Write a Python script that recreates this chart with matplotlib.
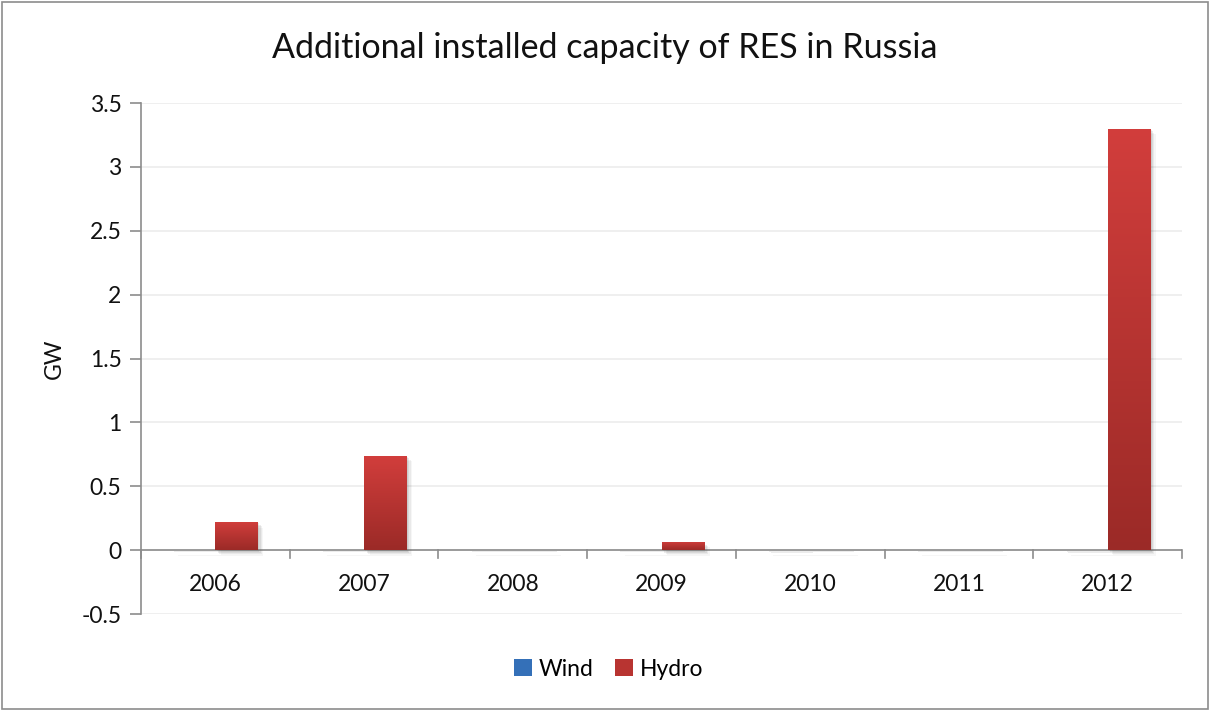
import numpy as np
import matplotlib
matplotlib.use("Agg")
import matplotlib.pyplot as plt
import matplotlib.patheffects as pe
from matplotlib.colors import LinearSegmentedColormap
from matplotlib.patches import Rectangle, Patch

years = ["2006", "2007", "2008", "2009", "2010", "2011", "2012"]
wind = [0.003, 0.002, 0.002, 0.002, 0.004, 0.002, 0.004]
hydro = [0.22, 0.74, 0.003, 0.065, 0.002, 0.002, 3.30]

plt.rcParams["font.family"] = ["Lato", "DejaVu Sans"]

fig = plt.figure(figsize=(12.1, 7.11), dpi=100)
ax = fig.add_axes([0.1165, 0.1364, 0.8604, 0.7186])

# outer chart frame
fig.patches.append(Rectangle((0.002, 0.003), 0.996, 0.994, transform=fig.transFigure,
                             fill=False, edgecolor="#8c8c8c", linewidth=1.2))

x = np.arange(len(years))
w = 0.2857
hydro_cmap = LinearSegmentedColormap.from_list("hydro", ["#9b2a27", "#d23e3c"])
wind_cmap = LinearSegmentedColormap.from_list("wind", ["#2a5a97", "#3c7cc8"])
grad = np.linspace(0, 1, 256).reshape(-1, 1)

# soft drop shadow built from a few faint offset copies
shadow = [pe.SimplePatchShadow(offset=(d, -d), shadow_rgbFace="#666666", alpha=a)
          for d, a in [(4, 0.06), (3, 0.09), (2, 0.12), (1, 0.12)]]


def draw_bars(xs, vals, cmap, base):
    bars = ax.bar(xs, vals, width=w, color=base, zorder=3,
                  path_effects=shadow + [pe.Normal()])
    for b in bars:
        x0, y0 = b.get_x(), b.get_y()
        im = ax.imshow(grad, cmap=cmap, origin="lower", aspect="auto",
                       extent=[x0, x0 + b.get_width(), y0, y0 + b.get_height()], zorder=4)
        im.set_clip_path(b)


draw_bars(x - w / 2, wind, wind_cmap, "#3470b8")
draw_bars(x + w / 2, hydro, hydro_cmap, "#b83431")

ax.set_xlim(-0.5, len(years) - 0.5)
ax.set_ylim(-0.5, 3.5)
ax.set_yticks(np.arange(-0.5, 3.51, 0.5))
ax.set_yticklabels(["-0.5", "0", "0.5", "1", "1.5", "2", "2.5", "3", "3.5"])
ax.yaxis.grid(True, color="#ececec", linewidth=1.2, zorder=0)
ax.set_axisbelow(True)

for s in ["top", "right", "bottom"]:
    ax.spines[s].set_visible(False)
ax.spines["left"].set_color("#8c8c8c")
ax.spines["left"].set_linewidth(1.2)
ax.axhline(0, color="#8c8c8c", linewidth=1.2, zorder=2)

# category ticks on the zero line
ax.set_xticks([])
for b in np.arange(-0.5, len(years), 1.0):
    ax.plot([b, b], [0, -0.06], color="#8c8c8c", linewidth=1.2, clip_on=False, zorder=2)
for xi, yr in zip(x, years):
    ax.text(xi, -0.27, yr, ha="center", va="center", fontsize=16.5, color="#111111")

ax.tick_params(axis="y", length=8, width=1.2, color="#8c8c8c", labelsize=16.5,
               labelcolor="#111111", pad=6)
ax.set_ylabel("GW", fontsize=16.5, color="#111111", labelpad=12)

fig.text(0.5, 0.932, "Additional installed capacity of RES in Russia",
         ha="center", va="center", fontsize=24.5, color="#111111")

handles = [Patch(facecolor="#3470b8", edgecolor="none"),
           Patch(facecolor="#b83431", edgecolor="none")]
fig.legend(handles, ["Wind", "Hydro"], loc="center", bbox_to_anchor=(0.503, 0.059),
           ncol=2, frameon=False, fontsize=16.5, handlelength=0.8, handleheight=0.8,
           handletextpad=0.3, columnspacing=0.9)

fig.savefig("out.png", dpi=100)
